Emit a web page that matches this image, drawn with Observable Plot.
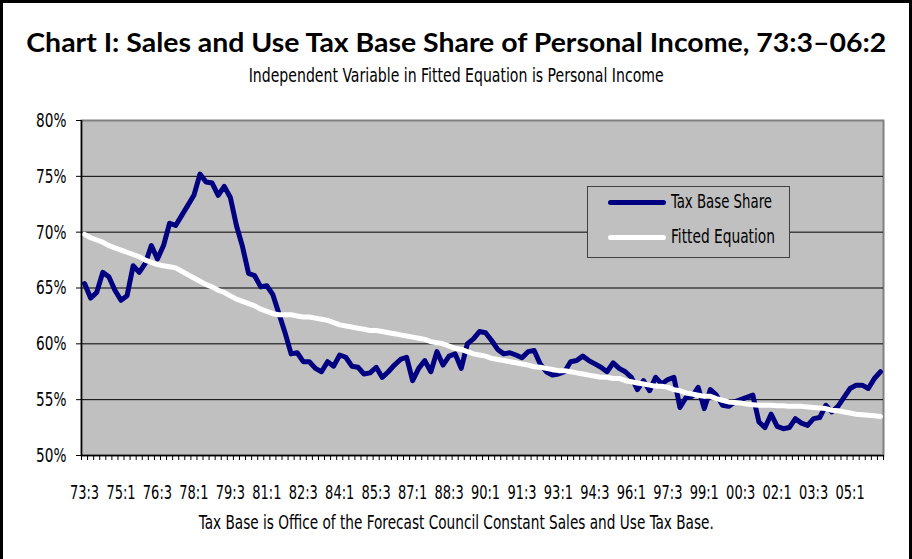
<!DOCTYPE html>
<html>
<head>
<meta charset="utf-8">
<script src="https://cdn.jsdelivr.net/npm/d3@7"></script>
<script src="https://cdn.jsdelivr.net/npm/@observablehq/plot@0.6"></script>
<style>
  body { margin: 0; background: #fff; }
  #wrap { position: relative; width: 912px; height: 559px; overflow: hidden; background: #fff; }
  #frame { position: absolute; left: 0; top: 0; width: 906px; height: 600px; border: 3px solid #000; box-sizing: content-box; }
  .fit { position: absolute; left: 0; width: 912px; text-align: center; white-space: nowrap; }
  .fit span { display: inline-block; transform-origin: center center; }
  #title span { font-family: Lato, "Open Sans", sans-serif; font-weight: 700; font-size: 26px; color: #000; }
  .cond { font-family: "Liberation Sans Narrow", "DejaVu Sans Condensed", "DejaVu Sans", sans-serif; font-stretch: condensed; }
  #subtitle span, #caption span { font-size: 20px; color: #000; }
  #chart { position: absolute; left: 0; top: 100px; }
  #legend { position: absolute; left: 587px; top: 186px; width: 201px; height: 70px; background: #c0c0c0; border: 1.5px solid #404040; }
  .lg { position: absolute; left: 20px; width: 58px; height: 5px; border-radius: 3px; }
  .lt { position: absolute; left: 83px; font-size: 20px; color: #000; white-space: nowrap; transform-origin: left center; }
</style>
</head>
<body>
<div id="wrap">
  <div id="frame"></div>
  <div id="title" class="fit" style="top:26px"><span>Chart I: Sales and Use Tax Base Share of Personal Income, 73:3–06:2</span></div>
  <div id="subtitle" class="fit cond" style="top:63px"><span>Independent Variable in Fitted Equation is Personal Income</span></div>
  <div id="chart"></div>
  <div id="legend">
    <div class="lg" style="top:13px;background:#000080"></div>
    <div id="lt1" class="lt cond" style="top:2px">Tax Base Share</div>
    <div class="lg" style="top:48px;background:#ffffff"></div>
    <div id="lt2" class="lt cond" style="top:37px">Fitted Equation</div>
  </div>
  <div id="caption" class="fit cond" style="top:510px"><span>Tax Base is Office of the Forecast Council Constant Sales and Use Tax Base.</span></div>
</div>
<script>
// ---- data ----
const startYear = 73, startQuarter = 3, nQuarters = 132; // 73:3 .. 06:2
const quarters = Array.from({length: nQuarters}, (_, i) => {
  const q = startQuarter - 1 + i;
  const y = (startYear + Math.floor(q / 4)) % 100;
  return String(y).padStart(2, "0") + ":" + (q % 4 + 1);
});

const tickLabels = ["73:3","75:1","76:3","78:1","79:3","81:1","82:3","84:1","85:3","87:1","88:3",
  "90:1","91:3","93:1","94:3","96:1","97:3","99:1","00:3","02:1","03:3","05:1"];

const yTicks = [50, 55, 60, 65, 70, 75, 80];

const taxBaseShare = [
  65.4, 64.1, 64.6, 66.4, 66.0, 64.8, 63.9, 64.3, 67.0, 66.4,
  67.2, 68.8, 67.6, 68.8, 70.8, 70.6, 71.5, 72.4, 73.3, 75.2,
  74.5, 74.4, 73.3, 74.1, 73.1, 70.6, 68.7, 66.3, 66.1, 65.1,
  65.2, 64.4, 62.7, 61.0, 59.1, 59.2, 58.4, 58.4, 57.8, 57.5,
  58.4, 58.0, 59.0, 58.8, 58.0, 57.9, 57.3, 57.4, 57.9, 57.0,
  57.5, 58.1, 58.6, 58.8, 56.7, 57.8, 58.5, 57.5, 59.3, 58.1,
  58.9, 59.1, 57.8, 60.0, 60.45, 61.1, 61.0, 60.3, 59.5, 59.1,
  59.2, 59.0, 58.75, 59.3, 59.4, 58.2, 57.5, 57.2, 57.3, 57.5,
  58.4, 58.5, 58.9, 58.5, 58.2, 57.9, 57.5, 58.3, 57.8, 57.5,
  57.0, 55.9, 56.7, 55.8, 57.0, 56.4, 56.8, 57.0, 54.3, 55.2,
  55.3, 56.1, 54.2, 55.9, 55.4, 54.5, 54.4, 54.8, 55.0, 55.2,
  55.4, 53.0, 52.5, 53.7, 52.6, 52.4, 52.5, 53.3, 52.9, 52.7,
  53.3, 53.4, 54.5, 53.9, 54.4, 55.2, 56.0, 56.3, 56.3, 56.0,
  56.9, 57.5
];

const fittedEquation = [
  69.8, 69.5, 69.3, 69.1, 68.8, 68.6, 68.4, 68.2, 68.0, 67.8,
  67.5, 67.3, 67.1, 67.0, 66.9, 66.8, 66.5, 66.2, 65.9, 65.6,
  65.3, 65.1, 64.8, 64.6, 64.3, 64.0, 63.8, 63.6, 63.4, 63.1,
  62.9, 62.7, 62.6, 62.6, 62.6, 62.5, 62.4, 62.4, 62.3, 62.2,
  62.1, 61.9, 61.7, 61.6, 61.5, 61.4, 61.3, 61.2, 61.2, 61.1,
  61.0, 60.9, 60.8, 60.7, 60.6, 60.5, 60.4, 60.2, 60.1, 60.0,
  59.8, 59.6, 59.5, 59.3, 59.1, 59.0, 58.9, 58.7, 58.6, 58.5,
  58.4, 58.3, 58.2, 58.1, 57.95, 57.9, 57.8, 57.7, 57.6, 57.6,
  57.5, 57.4, 57.3, 57.2, 57.1, 57.0, 57.0, 56.9, 56.9, 56.7,
  56.6, 56.5, 56.4, 56.3, 56.2, 56.2, 56.1, 55.9, 55.8, 55.6,
  55.5, 55.4, 55.3, 55.3, 55.1, 54.95, 54.8, 54.75, 54.7, 54.6,
  54.55, 54.5, 54.5, 54.5, 54.45, 54.45, 54.4, 54.4, 54.4, 54.35,
  54.3, 54.25, 54.2, 54.05, 54.0, 53.9, 53.8, 53.7, 53.65, 53.6,
  53.55, 53.5
];

// ---- build ----
const share = taxBaseShare.map((v, i) => ({i, q: quarters[i], v}));
const fitted = fittedEquation.map((v, i) => ({i, q: quarters[i], v}));
const labelIdx = tickLabels.map(t => quarters.indexOf(t));
const boundaries = d3.range(0, quarters.length + 1).map(k => k - 0.5);
const gridValues = yTicks.filter(v => v > 50 && v < 80);
const condFont = '"Liberation Sans Narrow", "DejaVu Sans Condensed", "DejaVu Sans", sans-serif';

const chart = Plot.plot({
  width: 912,
  height: 410,
  marginLeft: 81,
  marginRight: 29,
  marginTop: 20,
  marginBottom: 55,
  style: {fontFamily: condFont, fontSize: "18px", color: "#000", background: "transparent", overflow: "visible"},
  x: {domain: [-0.5, quarters.length - 0.5], axis: null},
  y: {domain: [50, 80], axis: null},
  marks: [
    Plot.frame({fill: "#c0c0c0", stroke: "#808080", strokeWidth: 2}),
    Plot.ruleY(gridValues, {stroke: "#000", strokeWidth: 1}),
    Plot.line(share, {x: "i", y: "v", stroke: "#000080", strokeWidth: 5, strokeLinejoin: "round", strokeLinecap: "round"}),
    Plot.line(fitted, {x: "i", y: "v", stroke: "#ffffff", strokeWidth: 5, strokeLinejoin: "round", strokeLinecap: "round"}),
    Plot.ruleX([-0.5], {stroke: "#000", strokeWidth: 1.5}),
    Plot.ruleY([50], {stroke: "#000", strokeWidth: 1.5}),
    Plot.axisY({ticks: yTicks, tickFormat: d => d + "%", tickSize: 5, tickPadding: 10, anchor: "left", fontSize: 20, stroke: "#000", label: null}),
    Plot.axisX({ticks: boundaries, tickFormat: () => "", tickSize: 5, anchor: "bottom", stroke: "#000", label: null}),
    Plot.axisX({ticks: labelIdx, tickFormat: i => quarters[i], tickSize: 0, tickPadding: 30, anchor: "bottom", fontSize: 19, label: null})
  ]
});
document.getElementById("chart").appendChild(chart);

// squeeze axis texts horizontally (reference uses a very condensed face)
chart.querySelectorAll("text").forEach(t => {
  const len = t.getComputedTextLength();
  if (len > 0) {
    t.setAttribute("textLength", (len * 0.76).toFixed(1));
    t.setAttribute("lengthAdjust", "spacingAndGlyphs");
  }
});

// fit HTML texts to reference widths
function fitWidth(el, target) {
  const w = el.getBoundingClientRect().width;
  el.style.transform = `scaleX(${target / w})`;
}
fitWidth(document.querySelector("#title span"), 860);
fitWidth(document.querySelector("#subtitle span"), 415);
fitWidth(document.querySelector("#caption span"), 515);
document.getElementById("lt1").style.display = "inline-block";
document.getElementById("lt2").style.display = "inline-block";
fitWidth(document.getElementById("lt1"), 101);
fitWidth(document.getElementById("lt2"), 104);
</script>
</body>
</html>
